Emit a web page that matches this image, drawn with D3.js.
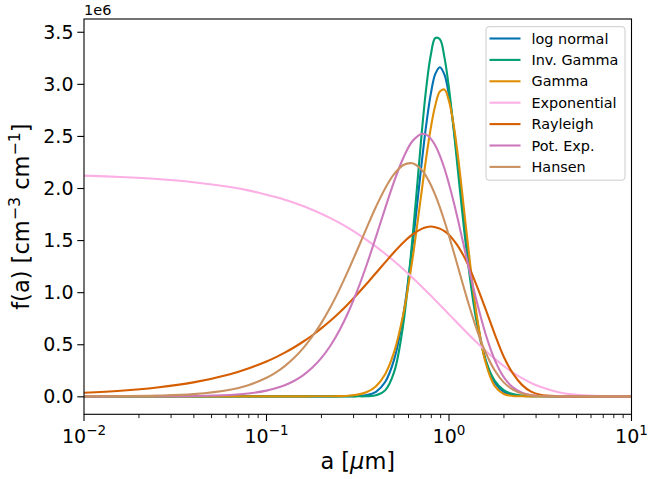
<!DOCTYPE html>
<html><head><meta charset="utf-8">
<script src="https://cdn.jsdelivr.net/npm/d3@7/dist/d3.min.js"></script>
<style>body{margin:0;background:#fff}svg{display:block;font-family:"DejaVu Sans",sans-serif}</style>
</head><body>
<svg id="chart" width="650" height="479"></svg>
<script>
// particle radius a [µm]
const sizes = [0.01,0.01585,0.02512,0.03981,0.0631,0.07943,0.1,0.1122,0.1259,0.1413,0.1585,0.1778,0.1995,0.2239,0.2512,0.2818,0.3162,0.3548,0.3981,0.4467,0.5012,0.5623,0.631,0.7079,0.7499,0.7943,0.8414,0.8913,0.9441,1.0,1.0593,1.122,1.2589,1.4125,1.5849,1.7783,1.9953,2.2387,2.5119,2.8184,3.1623,3.9811,5.0119,6.3096,7.9433,10];
// f(a) in units of 1e6 cm^-3 cm^-1
const logNormal = [0,0,0,0,0,0,0,0,0,0,0,0,0,0,0.0001,0.0005,0.0027,0.0118,0.0438,0.137,0.357,0.785,1.446,2.235,2.603,2.901,3.095,3.160,3.088,2.889,2.587,2.217,1.427,0.771,0.350,0.133,0.0426,0.0114,0.0026,0.0005,0.0001,0,0,0,0,0];
const invGamma = [0,0,0,0,0,0,0,0,0,0,0,0,0,0,0,0,0.0001,0.001,0.0094,0.057,0.237,0.700,1.521,2.518,2.956,3.274,3.440,3.428,3.254,2.956,2.571,2.148,1.339,0.728,0.351,0.152,0.060,0.0215,0.0071,0.0022,0.0007,0.0002,0,0,0,0];
const gammaDist = [0,0,0,0,0,0,0,0,0,0,0,0.0001,0.0003,0.0008,0.0022,0.0063,0.0166,0.0415,0.0974,0.213,0.429,0.792,1.320,1.966,2.289,2.574,2.795,2.926,2.945,2.834,2.610,2.294,1.517,0.801,0.328,0.101,0.0226,0.0035,0.0004,0,0,0,0,0,0,0];
const exponential = [2.119,2.106,2.087,2.056,2.009,1.977,1.936,1.913,1.887,1.858,1.827,1.791,1.753,1.711,1.665,1.615,1.560,1.500,1.437,1.369,1.297,1.220,1.139,1.055,1.011,0.968,0.923,0.878,0.833,0.787,0.742,0.697,0.608,0.521,0.438,0.362,0.291,0.228,0.174,0.128,0.091,0.040,0.014,0.004,0.0008,0.0001];
const rayleigh = [0.034,0.053,0.085,0.134,0.212,0.267,0.335,0.374,0.419,0.469,0.524,0.584,0.652,0.725,0.805,0.892,0.985,1.083,1.184,1.286,1.386,1.477,1.554,1.608,1.623,1.630,1.624,1.610,1.585,1.550,1.500,1.440,1.280,1.070,0.840,0.600,0.380,0.220,0.110,0.045,0.015,0.001,0,0,0,0];
const potExp = [0,0.0001,0.0007,0.003,0.0133,0.0273,0.0546,0.0767,0.1067,0.1475,0.2019,0.274,0.367,0.486,0.634,0.814,1.026,1.268,1.532,1.805,2.066,2.291,2.451,2.519,2.512,2.474,2.407,2.311,2.187,2.038,1.870,1.687,1.300,0.924,0.601,0.353,0.185,0.0855,0.0343,0.0117,0.0033,0.0001,0,0,0,0];
const hansen = [0.0007,0.0021,0.0067,0.021,0.063,0.107,0.178,0.228,0.290,0.367,0.460,0.572,0.703,0.855,1.027,1.216,1.417,1.622,1.820,1.996,2.135,2.221,2.237,2.175,2.113,2.031,1.931,1.814,1.683,1.540,1.391,1.236,0.931,0.653,0.423,0.251,0.134,0.0643,0.0271,0.0099,0.0031,0.0002,0,0,0,0];

const seriesNames = ["log normal","Inv. Gamma","Gamma","Exponential","Rayleigh","Pot. Exp.","Hansen"];
const seriesValues = [logNormal, invGamma, gammaDist, exponential, rayleigh, potExp, hansen];
const seriesColors = ["#0173B2","#029E73","#DE8F05","#FBAFE4","#D55E00","#CC78BC","#CA9161"];

const yTicks = [0,0.5,1.0,1.5,2.0,2.5,3.0,3.5];
const xTicks = [0.01,0.1,1,10];
const xTickExps = ["−2","−1","0","1"];

const svg = d3.select("#chart");
const L = 84, R = 631.5, T = 19, B = 414.3;
const x = d3.scaleLog().domain([0.01, 10]).range([L, R]);
const y = d3.scaleLinear().domain([-0.1725, 3.6225]).range([B, T]);

svg.append("defs").append("clipPath").attr("id","clip")
  .append("rect").attr("x",L).attr("y",T).attr("width",R-L).attr("height",B-T);

const line = d3.line().x(d => x(d[0])).y(d => y(d[1])).curve(d3.curveCatmullRom.alpha(0.5));
const g = svg.append("g").attr("clip-path","url(#clip)");
seriesValues.forEach((vals, i) => {
  g.append("path")
    .attr("d", line(sizes.map((s, j) => [s, vals[j]])))
    .attr("fill","none").attr("stroke",seriesColors[i]).attr("stroke-width",2.1)
    .attr("stroke-linejoin","round").attr("stroke-linecap","butt");
});

// y axis
const yAxis = d3.axisLeft(y).tickValues(yTicks).tickSize(6.7).tickPadding(4.5)
  .tickFormat(d3.format(".1f"));
const ya = svg.append("g").attr("transform",`translate(${L},0)`).call(yAxis);
ya.select(".domain").remove();
ya.selectAll("line").attr("stroke","#000").attr("stroke-width",1.1);
ya.selectAll("text").attr("font-size",19).attr("font-family","DejaVu Sans").attr("fill","#000").attr("dy","0.35em").attr("x",-10.5);

// x axis
const xa = svg.append("g").attr("transform",`translate(0,${B})`);
const minor = [];
[0.01,0.1,1].forEach(dec => { for (let k = 2; k <= 9; k++) minor.push(dec*k); });
xa.selectAll("line.minor").data(minor).enter().append("line")
  .attr("x1",d=>x(d)).attr("x2",d=>x(d)).attr("y1",0).attr("y2",3.8)
  .attr("stroke","#000").attr("stroke-width",0.9);
xa.selectAll("line.major").data(xTicks).enter().append("line")
  .attr("x1",d=>x(d)).attr("x2",d=>x(d)).attr("y1",0).attr("y2",6.7)
  .attr("stroke","#000").attr("stroke-width",1.1);
const xt = xa.selectAll("text.tl").data(xTicks).enter().append("text")
  .attr("x",d=>x(d)).attr("y",29).attr("text-anchor","middle")
  .attr("font-size",19).attr("fill","#000");
xt.append("tspan").text("10");
xt.append("tspan").attr("dy",-8).attr("font-size",13.5).text((d,i)=>xTickExps[i]);

// frame
svg.append("rect").attr("x",L).attr("y",T).attr("width",R-L).attr("height",B-T)
  .attr("fill","none").attr("stroke","#000").attr("stroke-width",1.1);

svg.append("text").attr("x",L).attr("y",15).attr("font-size",14.5).text("1e6");

const xl = svg.append("text").attr("x",(L+R)/2).attr("y",469).attr("text-anchor","middle").attr("font-size",22.5);
xl.append("tspan").text("a [");
xl.append("tspan").attr("font-style","italic").text("μ");
xl.append("tspan").text("m]");

const yl = svg.append("text").attr("transform",`translate(29,${(T+B)/2}) rotate(-90)`).attr("text-anchor","middle").attr("font-size",22.5);
yl.append("tspan").text("f(a) [cm");
yl.append("tspan").attr("dy",-9).attr("font-size",15.8).text("−3");
yl.append("tspan").attr("dy",9).text(" cm");
yl.append("tspan").attr("dy",-9).attr("font-size",15.8).text("−1");
yl.append("tspan").attr("dy",9).text("]");

// legend
const lg = svg.append("g");
lg.append("rect").attr("x",486).attr("y",26.7).attr("width",139).attr("height",153.5).attr("rx",3)
  .attr("fill","#fff").attr("fill-opacity",0.8).attr("stroke","#cccccc").attr("stroke-width",1);
seriesNames.forEach((n, i) => {
  const yy = 38.5 + i*21.4;
  lg.append("line").attr("x1",489.5).attr("x2",520.5).attr("y1",yy).attr("y2",yy)
    .attr("stroke",seriesColors[i]).attr("stroke-width",2.1);
  lg.append("text").attr("x",531.5).attr("y",yy).attr("dy","0.36em").attr("font-size",14.4).text(n);
});
</script>
</body></html>
